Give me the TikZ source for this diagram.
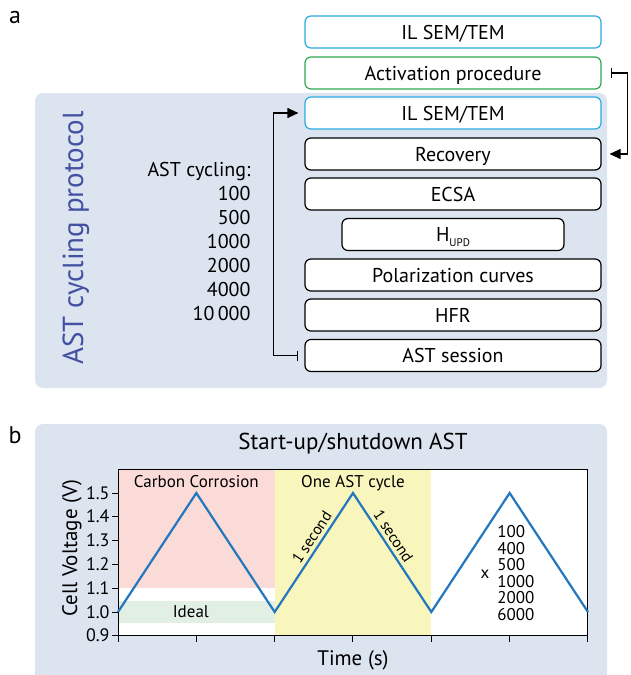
\documentclass[tikz,border=0pt]{standalone}
\usepackage{fontspec}
\setmainfont{PT Sans}
\usetikzlibrary{arrows.meta}

\definecolor{panelbg}{HTML}{DCE4F0}
\definecolor{cyanedge}{HTML}{29ABE2}
\definecolor{greenedge}{HTML}{2FA84F}
\definecolor{protoblue}{HTML}{4451A3}
\definecolor{wavecol}{HTML}{2277BE}
\definecolor{redzone}{HTML}{FADBD7}
\definecolor{greenzone}{HTML}{E2EFE4}
\definecolor{yellowzone}{HTML}{F8F6BD}

\newcommand{\fsz}[1]{\fontsize{#1}{1.2\dimexpr #1pt\relax}\selectfont}

\begin{document}
\begin{tikzpicture}[x=1pt, y=-1pt,
  stepbox/.style={draw, rounded corners=6pt, line width=1.2pt, fill=white,
    minimum width=296pt, minimum height=32pt, inner sep=0pt,
    text height=14pt, text depth=0pt, font=\fsz{20}},
  flow/.style={line width=1.2pt, shorten <=6pt, shorten >=6pt,
    {Bar[width=10pt]}-{Triangle[length=11pt, width=10pt]}},
  wave/.style={wavecol, line width=2.2pt, line join=miter},
  zonelabel/.style={font=\fsz{17}, text height=11pt, text depth=0pt, inner sep=0pt},
  ticklabel/.style={font=\fsz{18}, inner sep=2pt, text height=12pt, text depth=0pt},
  slopelabel/.style={sloped, above, text=black, font=\fsz{15.5},
    inner sep=3.5pt, text height=10pt, text depth=0pt},
]
\useasboundingbox (0,0) rectangle (630,675);

% ---------------- panel a ----------------
\node[font=\fsz{24}] (labA) at (15,17) {a};
\fill[panelbg, rounded corners=8pt] (35,93) rectangle (607,388);

\node[stepbox, draw=cyanedge]  (il1)  at (453,32)    {IL SEM/TEM};
\node[stepbox, draw=greenedge] (act)  at (453,73)    {Activation procedure};
\node[stepbox, draw=cyanedge]  (il2)  at (453,113)   {IL SEM/TEM};
\node[stepbox]                 (rec)  at (453,154)   {Recovery};
\node[stepbox]                 (ecsa) at (453,194)   {ECSA};
\node[stepbox, minimum width=222pt] (hupd) at (453,234.5)
  {H\raisebox{-0.45ex}{\fsz{11}UPD}};
\node[stepbox]                 (pol)  at (453,275)   {Polarization curves};
\node[stepbox]                 (hfr)  at (453,315)   {HFR};
\node[stepbox]                 (sess) at (453,355.5) {AST session};

% loops between the steps
\draw[flow] (sess.west) -- ++(-31,0) |- (il2.west);
\draw[flow, shorten <=9pt, shorten >=8pt] (act.east) -- ++(26,0) |- (rec.east);

\node[rotate=90, anchor=base, text=protoblue, font=\fsz{29}] (proto)
  at (83,238) {AST cycling protocol};

\node[anchor=base east, font=\fsz{20}] (cyc) at (254,176) {AST cycling:};
\foreach \n/\val in {1/100, 2/500, 3/1000, 4/2000, 5/4000, 6/10\,000}
  \node[anchor=base east, font=\fsz{20}] (cyc\n) at (254,176+24*\n) {\val};

% ---------------- panel b ----------------
\node[font=\fsz{24}] (labB) at (15,435) {b};
\fill[panelbg, rounded corners=8pt] (35,424) rectangle (607,720);
\node[font=\fsz{23}] (title) at (353,444) {Start-up/shutdown AST};

\begin{scope}[shift={(118,612)}, x=78.33pt, y=238pt]
  \fill[white] (0,-0.1) rectangle (6,0.597);
  \fill[redzone] (0,0.1) rectangle (2,0.597);
  \fill[greenzone] (0,-0.045) rectangle (2,0.045);
  \fill[yellowzone] (2,-0.1) rectangle (4,0.597);
  \draw[line width=1pt] (0,-0.1) rectangle (6,0.597);
  \foreach \t in {0,...,6}
    \draw[line width=1pt] (\t,-0.1) -- ++(0,-6pt);
  \foreach \v/\l in {-0.1/0.9, 0/1.0, 0.1/1.1, 0.2/1.2, 0.3/1.3, 0.4/1.4, 0.5/1.5}
    \draw[line width=1pt] (0,\v) -- ++(-6pt,0)
      node[ticklabel, anchor=east] (yt\l) {\l};

  \node[zonelabel] (cc)    at (1,0.546)    {Carbon Corrosion};
  \node[zonelabel] (one)   at (3,0.546)    {One AST cycle};
  \node[zonelabel] (ideal) at (0.93,0)     {Ideal};

  \draw[wave] (0,0) -- (1,0.5) -- (2,0)
    -- node[pos=0.58, slopelabel] (up) {1 second} (3,0.5)
    -- node[pos=0.41, slopelabel] (down) {1 second} (4,0)
    -- (5,0.5) -- (6,0);

  \node[zonelabel] (times) at (4.685,0.164) {x};
  \foreach \k/\val in {0/100, 1/400, 2/500, 3/1000, 4/2000, 5/6000}
    \node[zonelabel, anchor=west] (rep\k) at (4.84,0.336-0.0698*\k) {\val};
\end{scope}

\node[rotate=90, anchor=base, font=\fsz{21}] (ylab) at (77,548) {Cell Voltage (V)};
\node[font=\fsz{21}] (xlab) at (353,660) {Time (s)};
\end{tikzpicture}
\end{document}
